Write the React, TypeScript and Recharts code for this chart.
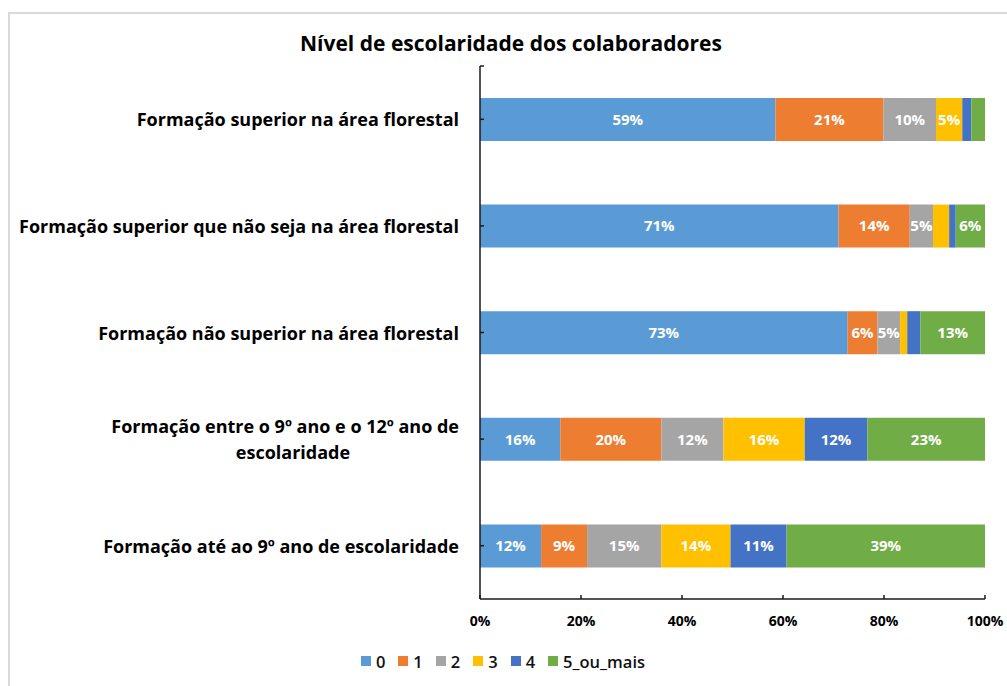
import { BarChart, Bar, XAxis, YAxis, Legend, LabelList } from 'recharts'

const categories = [
  'Formação superior na área florestal',
  'Formação superior que não seja na área florestal',
  'Formação não superior na área florestal',
  'Formação entre o 9º ano e o 12º ano de\nescolaridade',
  'Formação até ao 9º ano de escolaridade',
]

const seriesNames = ['0', '1', '2', '3', '4', '5_ou_mais']
const seriesColors = ['#5B9BD5', '#ED7D31', '#A5A5A5', '#FFC000', '#4472C4', '#70AD47']

const s0 = [58.5, 71.0, 72.8, 15.9, 12.1]
const s1 = [21.4, 14.1, 5.9, 20.0, 9.1]
const s2 = [10.4, 4.6, 4.5, 12.3, 14.7]
const s3 = [5.2, 3.2, 1.4, 16.1, 13.7]
const s4 = [1.8, 1.3, 2.6, 12.4, 11.1]
const s5 = [2.7, 5.8, 12.8, 23.3, 39.3]

const xTicks = [0, 20, 40, 60, 80, 100]

const allSeries = [s0, s1, s2, s3, s4, s5]

const data = categories.map((name, i) => {
  const row: Record<string, string | number> = { name }
  seriesNames.forEach((s, j) => {
    row[s] = allSeries[j][i]
  })
  return row
})

const FONT = '"Open Sans", "Noto Sans", sans-serif'
const AXIS_COLOR = '#1a1a1a'
const CAT_SIZE = 18

function YTick(props: any) {
  const { x, y, payload, index } = props
  const lines = String(payload.value).split('\n')
  const band = 106.6
  return (
    <g>
      <line x1={x} y1={y} x2={x + 4} y2={y} stroke={AXIS_COLOR} strokeWidth={1.5} />
      {index === 0 && (
        <line x1={x} y1={y - band / 2} x2={x + 4} y2={y - band / 2} stroke={AXIS_COLOR} strokeWidth={1.5} />
      )}
      {lines.length === 1 ? (
        <text
          x={x - 21}
          y={y}
          textAnchor="end"
          dominantBaseline="central"
          fontFamily={FONT}
          fontWeight={700}
          fontSize={CAT_SIZE}
          fill="#000"
        >
          {lines[0]}
        </text>
      ) : (
        <g>
          <text x={x - 21} y={y - 13} textAnchor="end" dominantBaseline="central" fontFamily={FONT} fontWeight={700} fontSize={CAT_SIZE} fill="#000">
            {lines[0]}
          </text>
          <text x={x - 187} y={y + 13} textAnchor="middle" dominantBaseline="central" fontFamily={FONT} fontWeight={700} fontSize={CAT_SIZE} fill="#000">
            {lines[1]}
          </text>
        </g>
      )}
    </g>
  )
}

function XTick(props: any) {
  const { x, y, payload } = props
  return (
    <g>
      <line x1={x} y1={y} x2={x} y2={y - 4} stroke={AXIS_COLOR} strokeWidth={1.5} />
      <text
        x={x}
        y={y + 21}
        textAnchor="middle"
        dominantBaseline="central"
        fontFamily={FONT}
        fontWeight={700}
        fontSize={14}
        fill="#000"
      >
        {payload.value}%
      </text>
    </g>
  )
}

function LegendContent() {
  return (
    <div
      style={{
        display: 'flex',
        justifyContent: 'center',
        alignItems: 'center',
        height: 30,
        paddingLeft: 24,
        fontFamily: FONT,
        fontWeight: 600,
        fontSize: 16.5,
        color: '#111',
      }}
    >
      {seriesNames.map((s, i) => (
        <div key={s} style={{ display: 'flex', alignItems: 'center', marginRight: 13 }}>
          <span style={{ width: 10, height: 10, background: seriesColors[i], display: 'inline-block', marginRight: 5 }} />
          <span>{s}</span>
        </div>
      ))}
    </div>
  )
}

export default function App() {
  return (
    <div style={{ position: 'fixed', top: 12, left: 8, width: 999, height: 674, overflow: 'hidden' }}>
      <div
        style={{
          position: 'relative',
          width: 1010,
          height: 690,
          border: '2px solid #d9d9d9',
          background: '#fff',
        }}
      >
        <div
          style={{
            position: 'absolute',
            top: 17,
            left: 0,
            width: 1002,
            textAlign: 'center',
            lineHeight: '24px',
            fontFamily: FONT,
            fontWeight: 700,
            fontSize: 21,
            color: '#000',
          }}
        >
          Nível de escolaridade dos colaboradores
        </div>
        <BarChart
          width={1000}
          height={672}
          data={data}
          layout="vertical"
          barCategoryGap="30%"
          margin={{ top: 52, right: 25, left: 0, bottom: 10 }}
          style={{ overflow: 'visible' }}
        >
          <XAxis
            type="number"
            domain={[0, 100]}
            ticks={xTicks}
            tickSize={0}
            tickMargin={0}
            tick={<XTick />}
            height={47}
            axisLine={{ stroke: AXIS_COLOR, strokeWidth: 1.5 }}
            tickLine={false}
            interval={0}
          />
          <YAxis
            type="category"
            dataKey="name"
            width={470}
            tickSize={0}
            tickMargin={0}
            tick={<YTick />}
            axisLine={{ stroke: AXIS_COLOR, strokeWidth: 1.5 }}
            tickLine={false}
            interval={0}
          />
          <Legend verticalAlign="bottom" height={30} content={<LegendContent />} />
          {seriesNames.map((s, i) => (
            <Bar key={s} dataKey={s} stackId="a" fill={seriesColors[i]} isAnimationActive={false}>
              <LabelList
                dataKey={s}
                position="center"
                fill="#fff"
                fontFamily={FONT}
                fontWeight={700}
                fontSize={15}
                formatter={(v: any) => (Number(v) >= 4 ? `${Math.round(Number(v))}%` : '')}
              />
            </Bar>
          ))}
        </BarChart>
      </div>
    </div>
  )
}
